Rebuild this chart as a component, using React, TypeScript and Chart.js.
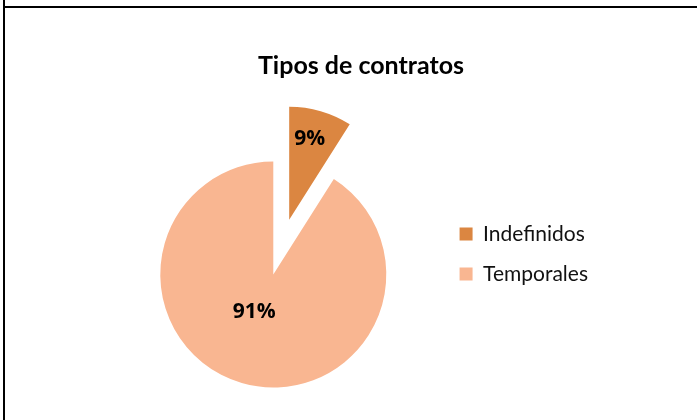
import React, { useEffect, useRef } from 'react';
import { Chart, registerables } from 'chart.js';

Chart.register(...registerables);

// ---- data ----
const categories: string[] = ['Indefinidos', 'Temporales'];
const values: number[] = [9, 91];
const sliceColors: string[] = ['#DB8641', '#F9B691'];
const titleText = 'Tipos de contratos';

// ---- styling constants ----
const EXPLODE_INDEX = 0;
const EXPLODE_PX = 57;
const PIE_RADIUS = 113;
const TITLE_CENTER_X = 361;
const LABEL_RADIUS = [0.74, 0.37];
const LABEL_ANGLE_SHIFT_DEG = [-2, 11];

const explodePlugin = {
  id: 'explodeSlice',
  afterDatasetsUpdate(chart: any) {
    const meta = chart.getDatasetMeta(0);
    const arc: any = meta.data[EXPLODE_INDEX];
    if (!arc) return;
    const mid = (arc.startAngle + arc.endAngle) / 2;
    arc.x += Math.cos(mid) * EXPLODE_PX;
    arc.y += Math.sin(mid) * EXPLODE_PX;
  },
};

const labelPlugin = {
  id: 'pctLabels',
  afterDatasetsDraw(chart: any) {
    const meta = chart.getDatasetMeta(0);
    const ctx = chart.ctx;
    const total = values.reduce((a, b) => a + b, 0);
    ctx.save();
    ctx.font = 'bold 21px "Open Sans"';
    ctx.fillStyle = '#000000';
    ctx.textAlign = 'center';
    ctx.textBaseline = 'middle';
    meta.data.forEach((arc: any, i: number) => {
      const mid = (arc.startAngle + arc.endAngle) / 2 + (LABEL_ANGLE_SHIFT_DEG[i] * Math.PI) / 180;
      const r = arc.outerRadius * LABEL_RADIUS[i];
      const txt = Math.round((values[i] / total) * 100) + '%';
      ctx.fillText(txt, arc.x + Math.cos(mid) * r, arc.y + Math.sin(mid) * r);
    });
    ctx.restore();
  },
};

const titleCenterPlugin = {
  id: 'titleCenter',
  afterLayout(chart: any) {
    const t: any = chart.titleBlock;
    if (!t) return;
    const w = t.right - t.left;
    t.left = TITLE_CENTER_X - w / 2;
    t.right = TITLE_CENTER_X + w / 2;
  },
};

function PieChart() {
  const canvasRef = useRef<HTMLCanvasElement | null>(null);

  useEffect(() => {
    if (!canvasRef.current) return;
    const chart = new Chart(canvasRef.current, {
      type: 'pie',
      data: {
        labels: categories,
        datasets: [
          {
            data: values,
            backgroundColor: sliceColors,
            borderWidth: 0,
            hoverOffset: 0,
            clip: false as any,
          },
        ],
      },
      options: {
        animation: false,
        responsive: true,
        maintainAspectRatio: false,
        radius: PIE_RADIUS,
        layout: {
          padding: { left: 106, right: 99, top: 0, bottom: 75.5 },
        },
        plugins: {
          title: {
            display: true,
            text: titleText,
            color: '#000000',
            font: { family: 'Lato', size: 25, weight: 'bold' },
            padding: { top: 51, bottom: 123.5 },
          },
          legend: {
            position: 'right',
            align: 'start',
            fullSize: false,
            labels: {
              boxWidth: 13,
              boxHeight: 13,
              padding: 19,
              color: '#111111',
              font: { family: 'Lato', size: 21 },
            },
          },
          tooltip: { enabled: true },
        },
      } as any,
      plugins: [explodePlugin, labelPlugin, titleCenterPlugin],
    });
    return () => chart.destroy();
  }, []);

  return (
    <div style={{ position: 'absolute', left: 0, top: 0, width: 697, height: 420, background: '#ffffff' }}>
      <canvas ref={canvasRef} />
    </div>
  );
}

export default function App() {
  return (
    <div style={{ position: 'absolute', left: 0, top: 0, width: 697, height: 420, overflow: 'hidden', background: '#ffffff' }}>
      <PieChart />
      <div style={{ position: 'absolute', left: 3, top: 0, width: 2, height: 420, background: '#000000' }} />
      <div style={{ position: 'absolute', left: 3, top: 6, width: 694, height: 2, background: '#000000' }} />
    </div>
  );
}
